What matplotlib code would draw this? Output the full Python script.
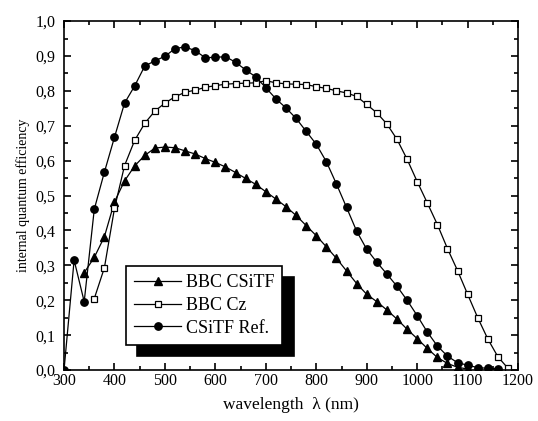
import numpy as np
import matplotlib
matplotlib.use('Agg')
import matplotlib.pyplot as plt
from matplotlib.ticker import MultipleLocator, FuncFormatter

plt.rcParams['font.family'] = ['Liberation Serif', 'DejaVu Serif']

# BBC CSiTF (triangles)
wl_tri = np.arange(340, 1101, 20)
iqe_tri = [0.279, 0.323, 0.382, 0.482, 0.542, 0.585, 0.615, 0.636, 0.639, 0.637,
           0.628, 0.619, 0.606, 0.595, 0.582, 0.566, 0.549, 0.532, 0.511, 0.490,
           0.468, 0.443, 0.414, 0.385, 0.353, 0.320, 0.284, 0.248, 0.217, 0.196,
           0.172, 0.146, 0.117, 0.090, 0.062, 0.036, 0.019, 0.008, 0.003]

# BBC Cz (squares)
wl_sq = np.arange(360, 1181, 20)
iqe_sq = [0.205, 0.293, 0.463, 0.586, 0.658, 0.707, 0.742, 0.765, 0.783, 0.796,
          0.802, 0.810, 0.815, 0.819, 0.821, 0.822, 0.823, 0.829, 0.823, 0.820,
          0.819, 0.818, 0.812, 0.807, 0.800, 0.794, 0.784, 0.761, 0.737, 0.705,
          0.661, 0.604, 0.540, 0.479, 0.417, 0.348, 0.285, 0.217, 0.150, 0.089,
          0.038, 0.005]

# CSiTF Ref. (circles)
wl_ref = np.arange(300, 1161, 20)
iqe_ref = [0.0, 0.315, 0.196, 0.461, 0.567, 0.667, 0.765, 0.814, 0.871, 0.886,
           0.899, 0.921, 0.926, 0.915, 0.895, 0.896, 0.898, 0.882, 0.860, 0.840,
           0.809, 0.777, 0.751, 0.721, 0.684, 0.647, 0.597, 0.533, 0.466, 0.398,
           0.346, 0.309, 0.275, 0.240, 0.200, 0.156, 0.109, 0.069, 0.040, 0.021,
           0.014, 0.007, 0.005, 0.004]

fig = plt.figure(figsize=(5.38, 4.21), dpi=100)
ax = fig.add_axes([0.119, 0.121, 0.844, 0.829])

ax.plot(wl_tri, iqe_tri, 'k-', marker='^', ms=6, lw=0.9, mfc='k', label='BBC CSiTF')
ax.plot(wl_sq, iqe_sq, 'k-', marker='s', ms=4.4, lw=0.9, mfc='white', mew=0.9, label='BBC Cz')
ax.plot(wl_ref, iqe_ref, 'k-', marker='o', ms=5.3, lw=0.9, mfc='k', label='CSiTF Ref.')

ax.set_xlim(300, 1200)
ax.set_ylim(0, 1.0)
ax.xaxis.set_major_locator(MultipleLocator(100))
ax.xaxis.set_minor_locator(MultipleLocator(50))
ax.yaxis.set_major_locator(MultipleLocator(0.1))
ax.yaxis.set_minor_locator(MultipleLocator(0.05))
ax.yaxis.set_major_formatter(FuncFormatter(lambda v, p: ('%.1f' % v).replace('.', ',')))
ax.tick_params(which='both', direction='in', top=True, right=True, width=1.2, labelsize=11.5)
ax.tick_params(which='major', length=5)
ax.tick_params(which='minor', length=3)
ax.tick_params(axis='x', pad=2)
ax.tick_params(axis='y', pad=6)
for sp in ax.spines.values():
    sp.set_linewidth(1.2)

ax.set_xlabel('wavelength  \u03bb (nm)', fontsize=12.5, labelpad=6)
ax.set_ylabel('internal quantum efficiency', fontsize=10, labelpad=4)

# legend with a solid black drop shadow
leg = ax.legend(loc='upper left', bbox_to_anchor=(0.137, 0.298), borderaxespad=0,
                fancybox=False, edgecolor='k', framealpha=1, fontsize=13,
                handlelength=2.6, labelspacing=0.32, handletextpad=0.25,
                borderpad=0.45,
                shadow={'ox': 8, 'oy': -8, 'facecolor': 'black', 'edgecolor': 'black', 'alpha': 1})
leg.get_frame().set_linewidth(1.2)

fig.savefig('out.png', dpi=100)
